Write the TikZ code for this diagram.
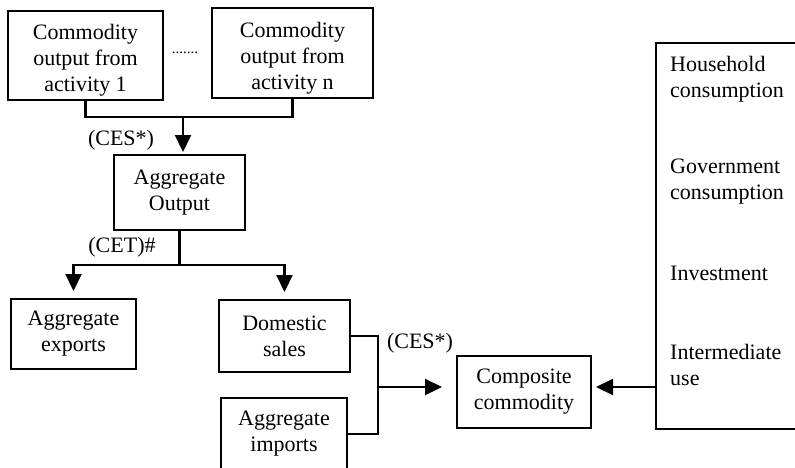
\documentclass[tikz,border=0pt]{standalone}
\usepackage{fontspec}
\setmainfont{Liberation Serif}
\usetikzlibrary{arrows.meta,positioning,calc}
\newcommand{\tallstrut}{\rule{0pt}{25pt}}

\begin{document}
\begin{tikzpicture}[x=1pt, y=-1pt,
    font=\fontsize{22}{26}\selectfont,
    box/.style={draw, line width=2pt, align=center, inner sep=0pt},
    flow/.style={line width=2.2pt},
    arr/.style={flow, -{Triangle[length=17pt, width=16pt]}}]
    % Fix the page and cut what runs off its edges
    \useasboundingbox (0,0) rectangle (795,467);
    \clip (0,0) rectangle (795,467);

    % Draw the activity boxes
    \node[box, minimum width=155pt, minimum height=89pt] (act1) at (85.5,55.5) {\tallstrut Commodity\\output from\\activity 1};
    \node[box, minimum width=161pt, minimum height=90pt] (actn) at (292.5,53) {\tallstrut Commodity\\output from\\activity n};
    \node[font=\fontsize{15}{18}\selectfont] (dots) at (185,53) {.......};

    % Draw the output and trade boxes
    \node[box, minimum width=131pt, minimum height=75pt] (aggout) at (179.5,192.5) {Aggregate\\Output};
    \node[box, minimum width=125pt, minimum height=70pt] (exports) at (73.5,334) {Aggregate\\exports};
    \node[box, minimum width=131pt, minimum height=72pt] (domestic) at (284.5,336) {Domestic\\sales};
    \node[box, minimum width=126pt, minimum height=72pt] (imports) at (284,434) {Aggregate\\imports};
    \node[box, minimum width=134pt, minimum height=72pt] (composite) at (524,392) {Composite\\commodity};

    % Draw the demand box and its entries
    \node[box, minimum width=160pt, minimum height=386pt] (uses) at (736,236) {};
    \node[anchor=west, align=left, inner sep=0pt] (household) at (670,79) {Household\\consumption};
    \node[anchor=west, align=left, inner sep=0pt] (government) at (670,182) {Government\\consumption};
    \node[anchor=west, align=left, inner sep=0pt] (investment) at (670,273) {Investment};
    \node[anchor=west, align=left, inner sep=0pt] (intermediate) at (670,365) {Intermediate\\use};

    % Join points of the connectors
    \coordinate (j1) at (183,117);
    \coordinate (j2) at (aggout.south |- 0,265);
    \coordinate (j3) at (378,387);

    % Activities to aggregate output
    \draw[flow] (act1.south) |- (j1) -| (actn.south);
    \draw[arr, shorten >=2pt] (j1) -- (j1 |- aggout.north);
    \node (ces1) at (121,140) {(CES*)};

    % Aggregate output split into exports and domestic sales
    \draw[flow] (aggout.south) -- (j2);
    \draw[arr, shorten >=7pt] (j2) -| (exports.north);
    \draw[arr, shorten >=7pt] (j2) -| (domestic.north);
    \node (cet) at (122,247) {(CET)\#};

    % Domestic sales and imports to composite commodity
    \draw[flow] (domestic.east) -| (j3 |- imports.east) -- (imports.east);
    \draw[arr, shorten >=14pt] (j3) -- ([yshift=5pt]composite.west);
    \node (ces2) at (420,343) {(CES*)};

    % Demand to composite commodity
    \draw[arr, shorten >=4pt] (uses.west |- j3) -- ([yshift=5pt]composite.east);
\end{tikzpicture}
\end{document}
